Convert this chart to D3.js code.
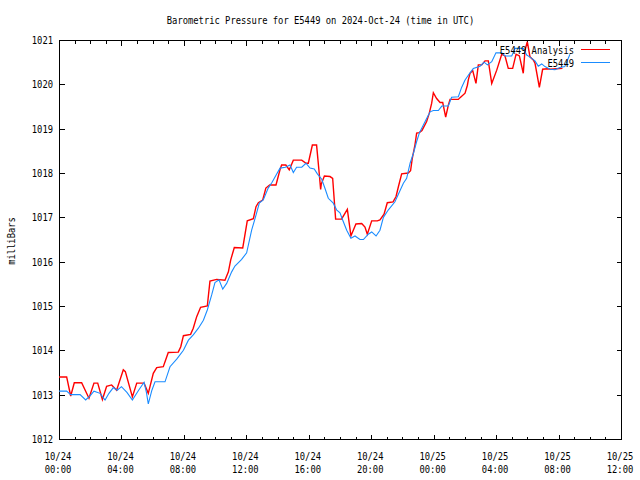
<!DOCTYPE html>
<html><head><meta charset="utf-8">
<script src="https://cdn.jsdelivr.net/npm/d3@7/dist/d3.min.js"></script>
<style>body{margin:0;background:#fff}svg{display:block}</style>
</head><body>
<svg id="c" width="640" height="480"></svg>
<script>
const titleText = "Barometric Pressure for E5449 on 2024-Oct-24 (time in UTC)";
const yLabel = "milliBars";
const seriesNames = ["E5449 Analysis", "E5449"];
const seriesColors = ["#ff0000", "#1a8cff"];
const startUTC = "2024-10-24T00:00:00Z";
const xDomainHours = [0, 36];
const yTicks = [1012,1013,1014,1015,1016,1017,1018,1019,1020,1021];

// Analysis (red): hours since start, pressure mb
const analysisHours = [0,0.49,0.75,0.98,1.45,1.92,2.24,2.48,2.78,3.05,3.37,3.69,4.12,4.25,4.70,4.98,5.45,5.72,6.04,6.26,6.68,7.00,7.64,7.80,7.97,8.43,8.60,8.82,9.07,9.50,9.67,10.10,10.63,10.85,11.00,11.23,11.77,12.06,12.45,12.62,12.77,13.05,13.25,13.50,13.90,14.16,14.26,14.53,14.75,15.01,15.55,15.82,15.97,16.23,16.50,16.67,16.76,16.80,17.00,17.36,17.53,17.72,18.10,18.25,18.47,18.70,19.02,19.39,19.60,19.75,20.03,20.39,20.56,20.82,21.03,21.40,21.59,21.74,21.95,22.37,22.52,22.63,22.80,22.91,23.08,23.25,23.55,23.72,23.87,23.98,24.19,24.41,24.58,24.77,24.94,25.05,25.58,25.69,26.01,26.16,26.22,26.33,26.50,26.71,26.86,27.08,27.29,27.50,27.72,28.04,28.36,28.57,28.78,29.06,29.28,29.49,29.74,29.85,30.00,30.17,30.38,30.49,30.77,30.98,31.28,31.50,31.85,32.25];
const analysisValues = [1013.40,1013.40,1012.97,1013.27,1013.27,1012.92,1013.26,1013.26,1012.89,1013.19,1013.22,1013.10,1013.56,1013.52,1012.95,1013.26,1013.26,1013.03,1013.48,1013.61,1013.63,1013.95,1013.96,1014.08,1014.33,1014.36,1014.50,1014.76,1014.97,1015.00,1015.56,1015.60,1015.58,1015.77,1016.04,1016.32,1016.31,1016.92,1016.97,1017.24,1017.33,1017.39,1017.66,1017.73,1017.73,1018.08,1018.18,1018.18,1018.07,1018.29,1018.29,1018.22,1018.22,1018.63,1018.63,1017.99,1017.63,1017.75,1017.93,1017.92,1017.88,1016.96,1016.96,1017.05,1017.18,1016.58,1016.85,1016.86,1016.78,1016.62,1016.92,1016.92,1016.94,1017.07,1017.33,1017.35,1017.47,1017.69,1017.98,1018.00,1018.05,1018.33,1018.63,1018.90,1018.91,1018.96,1019.16,1019.35,1019.57,1019.81,1019.68,1019.59,1019.59,1019.26,1019.53,1019.66,1019.66,1019.70,1019.80,1019.98,1020.10,1020.25,1020.31,1020.02,1020.44,1020.44,1020.53,1020.53,1020.02,1020.32,1020.68,1020.64,1020.36,1020.36,1020.68,1020.64,1020.25,1020.77,1020.96,1020.62,1020.55,1020.48,1019.93,1020.34,1020.35,1020.34,1020.35,1020.36];

// Observed (blue)
const obsHours = [0,0.49,0.75,1.35,1.71,2.00,2.24,2.63,2.95,3.20,3.48,3.73,4.00,4.35,4.70,5.10,5.45,5.60,5.72,5.95,6.15,6.79,7.11,7.54,7.97,8.29,8.60,8.93,9.25,9.50,9.78,9.99,10.25,10.49,10.74,11.06,11.27,11.70,12.02,12.34,12.62,12.83,13.09,13.40,13.65,13.90,14.16,14.50,14.80,15.01,15.22,15.55,15.82,16.08,16.35,16.55,16.83,17.04,17.25,17.57,17.78,18.00,18.17,18.43,18.70,18.96,19.28,19.50,19.81,20.03,20.31,20.56,20.78,21.10,21.52,21.84,22.06,22.27,22.49,22.70,22.91,23.08,23.34,23.55,23.77,23.98,24.30,24.52,24.94,25.15,25.58,25.79,26.01,26.33,26.54,26.97,27.23,27.44,27.72,27.99,28.36,28.57,29.00,29.21,29.74,29.96,30.15,30.49,30.70,30.92,31.13,31.45,31.77,32.09,32.40,32.73];
const obsValues = [1013.08,1013.08,1013.00,1013.00,1012.88,1012.98,1013.08,1013.03,1012.88,1013.03,1013.16,1013.10,1013.18,1013.05,1012.88,1013.10,1013.28,1013.05,1012.79,1013.10,1013.29,1013.29,1013.63,1013.80,1014.00,1014.23,1014.35,1014.50,1014.68,1014.91,1015.25,1015.53,1015.59,1015.38,1015.51,1015.77,1015.90,1016.05,1016.20,1016.71,1017.05,1017.32,1017.40,1017.66,1017.79,1017.95,1018.11,1018.13,1018.18,1018.01,1018.13,1018.13,1018.22,1018.11,1018.09,1017.98,1017.86,1017.65,1017.43,1017.32,1017.17,1017.10,1016.94,1016.71,1016.53,1016.58,1016.50,1016.50,1016.62,1016.67,1016.58,1016.71,1017.00,1017.17,1017.35,1017.60,1017.77,1017.88,1018.22,1018.44,1018.71,1018.90,1019.08,1019.23,1019.38,1019.41,1019.41,1019.51,1019.51,1019.71,1019.72,1019.93,1020.10,1020.26,1020.36,1020.41,1020.50,1020.44,1020.51,1020.71,1020.71,1020.64,1020.64,1020.81,1020.81,1020.66,1020.62,1020.53,1020.41,1020.46,1020.40,1020.34,1020.33,1020.38,1020.40,1020.68];

const t0 = new Date(startUTC).getTime();
const toDate = h => new Date(t0 + h * 3600000);

const L = 59, R = 621, T = 40, B = 439;
const svg = d3.select("#c");
const FONT = "'DejaVu Sans Mono', 'Liberation Mono', monospace";
const CW = 5.3;

function txt(g, s, x, y, anchor) {
  return g.append("text").attr("x", x).attr("y", y)
    .attr("font-family", FONT).attr("font-size", 11)
    .attr("text-anchor", anchor || "start")
    .attr("textLength", s.length * CW).attr("lengthAdjust", "spacingAndGlyphs")
    .attr("fill", "#000").text(s);
}

const x = d3.scaleUtc().domain(xDomainHours.map(toDate)).range([L, R]);
const y = d3.scaleLinear().domain([yTicks[0], yTicks[yTicks.length-1]]).range([B, T]);

const axes = svg.append("g").attr("shape-rendering", "crispEdges").attr("stroke", "#000").attr("stroke-width", 1);
const majorX = x.ticks(d3.utcHour.every(4));
const minorX = x.ticks(d3.utcHour.every(1));
const MAJ = 5, MIN = 3;
minorX.forEach(d => {
  const px = Math.round(x(d)) + 0.5;
  const isMajor = majorX.some(m => +m === +d);
  const len = isMajor ? MAJ : MIN;
  axes.append("line").attr("x1", px).attr("x2", px).attr("y1", B + 0.5).attr("y2", B + 0.5 - len);
  axes.append("line").attr("x1", px).attr("x2", px).attr("y1", T + 0.5).attr("y2", T + 0.5 + len);
});
yTicks.forEach(v => {
  const py = Math.round(y(v)) + 0.5;
  axes.append("line").attr("x1", L + 0.5).attr("x2", L + 0.5 + MAJ).attr("y1", py).attr("y2", py);
  axes.append("line").attr("x1", R + 0.5).attr("x2", R + 0.5 - MAJ).attr("y1", py).attr("y2", py);
});

// data lines
const line = d3.line().x(d => x(toDate(d[0]))).y(d => y(d[1]));
const aData = analysisHours.map((h, i) => [h, analysisValues[i]]);
const oData = obsHours.map((h, i) => [h, obsValues[i]]);
svg.append("path").datum(aData).attr("d", line).attr("fill", "none")
  .attr("stroke", seriesColors[0]).attr("stroke-width", 1.4).attr("stroke-linejoin", "miter");
svg.append("path").datum(oData).attr("d", line).attr("fill", "none")
  .attr("stroke", seriesColors[1]).attr("stroke-width", 1.1);

// border
axes.append("rect").attr("x", L + 0.5).attr("y", T + 0.5).attr("width", R - L).attr("height", B - T).attr("fill", "none");

// labels
const lab = svg.append("g");
yTicks.forEach(v => txt(lab, String(v), 53, y(v) + 4, "end"));
const fmtD = d3.utcFormat("%m/%d"), fmtT = d3.utcFormat("%H:%M");
majorX.forEach(d => {
  txt(lab, fmtD(d), x(d) - 1, 459.5, "middle");
  txt(lab, fmtT(d), x(d) - 1, 472.5, "middle");
});
txt(lab, titleText, 320.5, 23.5, "middle");
const yl = txt(lab, yLabel, 0, 0, "middle");
yl.attr("transform", "translate(15,241) rotate(-90)");

// legend
txt(lab, seriesNames[0], 574, 54, "end");
txt(lab, seriesNames[1], 574, 67, "end");
const lg = svg.append("g").attr("shape-rendering", "crispEdges");
lg.append("line").attr("x1", 581).attr("x2", 610).attr("y1", 49.5).attr("y2", 49.5).attr("stroke", seriesColors[0]).attr("stroke-width", 1);
lg.append("line").attr("x1", 581).attr("x2", 610).attr("y1", 62.5).attr("y2", 62.5).attr("stroke", seriesColors[1]).attr("stroke-width", 1);
</script>
</body></html>
